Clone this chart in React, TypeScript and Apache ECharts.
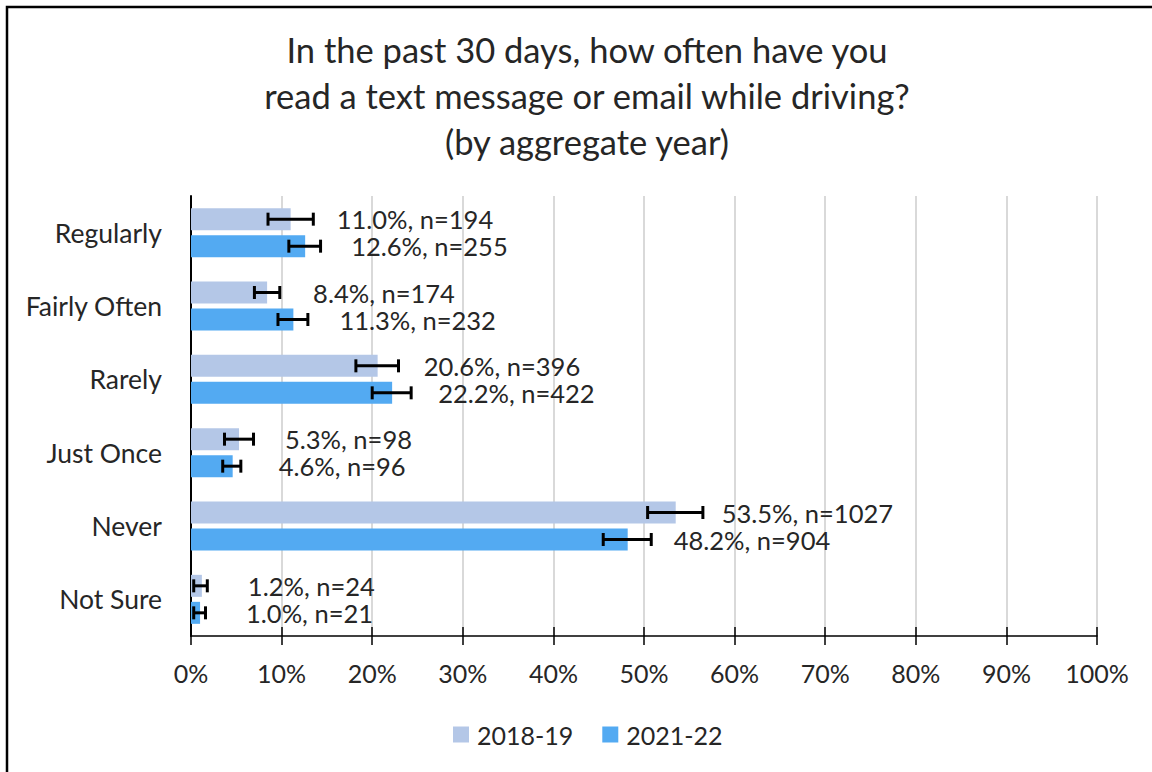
import React, { useEffect, useRef } from "react";
import * as echarts from "echarts";

const categories = ["Regularly", "Fairly Often", "Rarely", "Just Once", "Never", "Not Sure"];
const seriesNames = ["2018-19", "2021-22"];
const values2018 = [11.0, 8.4, 20.6, 5.3, 53.5, 1.2];
const n2018 = [194, 174, 396, 98, 1027, 24];
const low2018 = [8.5, 7.0, 18.2, 3.7, 50.4, 0.3];
const high2018 = [13.5, 9.8, 22.9, 6.9, 56.5, 1.8];
const values2021 = [12.6, 11.3, 22.2, 4.6, 48.2, 1.0];
const n2021 = [255, 232, 422, 96, 904, 21];
const low2021 = [10.8, 9.6, 20.0, 3.5, 45.5, 0.3];
const high2021 = [14.3, 12.9, 24.3, 5.5, 50.8, 1.6];
const xTicks = [0, 10, 20, 30, 40, 50, 60, 70, 80, 90, 100];

const COLORS = ["#B4C7E7", "#53AAF2"];
const FONT = "Lato";
const TEXT = "#262626";

export default function App() {
  const ref = useRef<HTMLDivElement>(null);
  useEffect(() => {
    if (!ref.current) return;
    const chart = echarts.init(ref.current, null, { renderer: "svg" });
    const barW = 22;
    const gapPx = 5;
    const offsets = [-(barW + gapPx) / 2, (barW + gapPx) / 2];

    const errSeries = (lows: number[], highs: number[], idx: number) => ({
      type: "custom",
      name: seriesNames[idx] + " error",
      z: 5,
      silent: true,
      data: categories.map((_, i) => [i, lows[i], highs[i]]),
      renderItem: (params: any, api: any) => {
        const c = api.value(0);
        const p1 = api.coord([api.value(1), c]);
        const p2 = api.coord([api.value(2), c]);
        const y = p1[1] + offsets[idx];
        const cap = 6.5;
        const st = { stroke: "#000", lineWidth: 3 };
        return {
          type: "group",
          children: [
            { type: "line", shape: { x1: p1[0], y1: y, x2: p2[0], y2: y }, style: st },
            { type: "line", shape: { x1: p1[0], y1: y - cap, x2: p1[0], y2: y + cap }, style: st },
            { type: "line", shape: { x1: p2[0], y1: y - cap, x2: p2[0], y2: y + cap }, style: st },
          ],
        };
      },
    });

    const barSeries = (vals: number[], ns: number[], idx: number) => ({
      type: "bar",
      name: seriesNames[idx],
      data: vals,
      barWidth: barW,
      barGap: (gapPx / barW) * 100 + "%",
      itemStyle: { color: COLORS[idx] },
      label: {
        show: true,
        position: "right",
        distance: 46,
        fontFamily: FONT,
        fontSize: 25.5,
        color: TEXT,
        formatter: (p: any) => `${vals[p.dataIndex].toFixed(1)}%, n=${ns[p.dataIndex]}`,
      },
    });

    chart.setOption({
      animation: false,
      textStyle: { fontFamily: FONT },
      title: {
        text: "In the past 30 days, how often have you\nread a text message or email while driving?\n(by aggregate year)",
        left: 582,
        top: 21,
        textAlign: "center",
        textStyle: { fontFamily: FONT, fontSize: 34.5, fontWeight: "normal", color: TEXT, lineHeight: 46 },
      },
      legend: {
        data: seriesNames,
        left: 448,
        top: 717,
        icon: "rect",
        itemWidth: 16,
        itemHeight: 16,
        itemGap: 29,
        textStyle: { fontFamily: FONT, fontSize: 25, color: TEXT, padding: [0, 0, 0, 3] },
      },
      grid: { left: 191, right: 55, top: 196, bottom: 136 },
      xAxis: [
        {
          type: "value",
          min: 0,
          max: 100,
          interval: 10,
          axisLine: { show: true, lineStyle: { color: "#000", width: 1.5 } },
          axisTick: { show: true, length: 9, lineStyle: { color: "#000", width: 1.5 } },
          splitLine: { show: true, lineStyle: { color: "#D9D9D9", width: 2 } },
          axisLabel: {
            fontFamily: FONT,
            fontSize: 25,
            color: TEXT,
            margin: 24,
            formatter: (v: number) => (xTicks.includes(v) ? v + "%" : ""),
          },
        },
        {
          type: "value",
          min: 0,
          max: 100,
          interval: 10,
          position: "bottom",
          axisLine: { show: false },
          axisTick: { show: true, inside: true, length: 9, lineStyle: { color: "#000", width: 1.5 } },
          splitLine: { show: false },
          axisLabel: { show: false },
        },
      ],
      yAxis: {
        type: "category",
        data: categories,
        inverse: true,
        axisLine: { show: true, lineStyle: { color: "#000", width: 2 } },
        axisTick: { show: false },
        axisLabel: { fontFamily: FONT, fontSize: 26.5, color: TEXT, margin: 29 },
      },
      graphic: [
        {
          type: "rect",
          shape: { x: 7, y: 7, width: 1160, height: 780 },
          style: { fill: "none", stroke: "#000", lineWidth: 2.5 },
          silent: true,
        },
      ],
      series: [
        barSeries(values2018, n2018, 0),
        barSeries(values2021, n2021, 1),
        errSeries(low2018, high2018, 0),
        errSeries(low2021, high2021, 1),
      ],
    });
    return () => chart.dispose();
  }, []);
  return (
    <div
      ref={ref}
      style={{ position: "absolute", left: 0, top: 0, width: 1152, height: 772, background: "#fff" }}
    />
  );
}
